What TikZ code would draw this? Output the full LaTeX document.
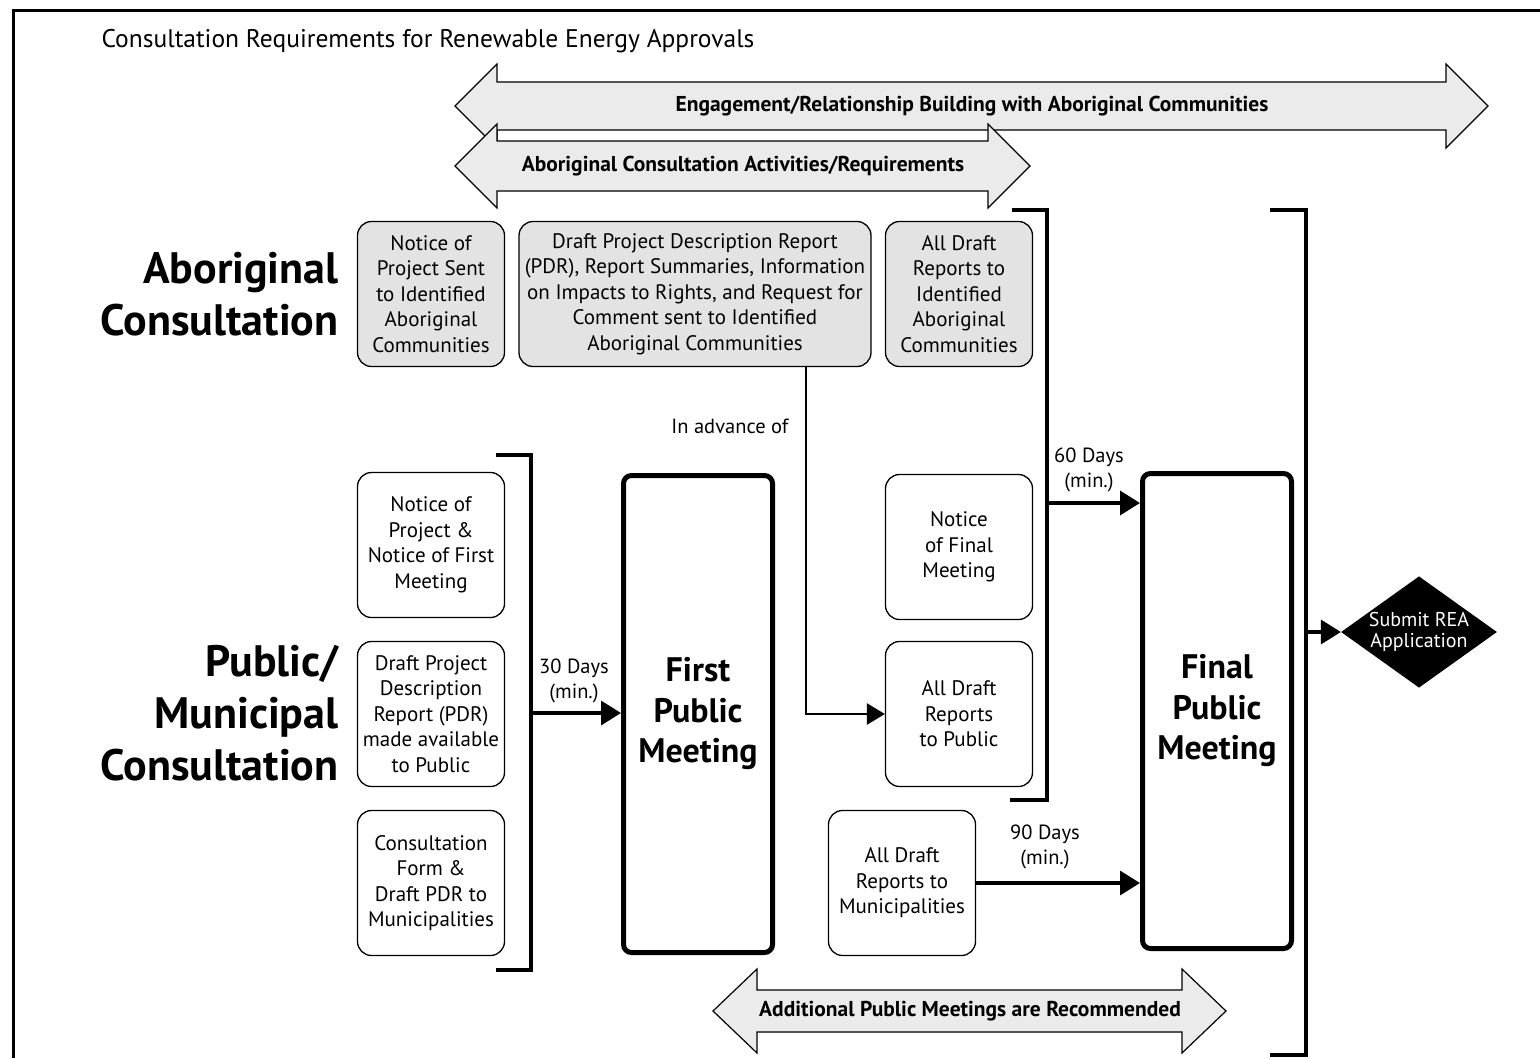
\documentclass[tikz,border=0pt]{standalone}
\usepackage{fontspec}
\setmainfont{PT Sans}
\usetikzlibrary{arrows.meta,shapes.geometric}
\newcommand\dblarr[6]{%
  \draw[bigarrow] (#1,#3) -- ({#1+#6},{#3-#4}) -- ({#1+#6},{#3-#5}) -- ({#2-#6},{#3-#5}) -- ({#2-#6},{#3-#4}) -- (#2,#3) -- ({#2-#6},{#3+#4}) -- ({#2-#6},{#3+#5}) -- ({#1+#6},{#3+#5}) -- ({#1+#6},{#3+#4}) -- cycle;}
\begin{document}
\begin{tikzpicture}[x=1pt,y=-1pt,
  boxtxt/.style={font=\fontsize{21}{25.5}\selectfont, align=center},
  graybox/.style={draw, line width=1.3pt, rounded corners=14pt, fill=black!11, minimum width=147pt, minimum height=145pt, boxtxt, inner sep=0pt},
  whitebox/.style={graybox, fill=white},
  meetbox/.style={draw, line width=5pt, rounded corners=8pt, minimum width=149pt, minimum height=477pt, font=\bfseries\fontsize{34}{40.5}\selectfont, align=center, inner sep=0pt},
  brk/.style={line width=4pt},
  conn/.style={line width=3.5pt, -{Triangle[length=20pt,width=24pt]}},
  bigarrow/.style={draw, line width=1.2pt, fill=black!8},
  arrtxt/.style={font=\bfseries\fontsize{21.5}{24}\selectfont},
  lbl/.style={font=\fontsize{20.5}{25}\selectfont, align=center},
  biglbl/.style={font=\bfseries\fontsize{44}{52}\selectfont, align=right, anchor=east},
]
\useasboundingbox (0,0) rectangle (1540,1058);
\fill[white] (0,0) rectangle (1540,1058);
\draw[line width=3pt] (13,1058) -- (13,10) -- (1540,10);

\node[anchor=west, font=\fontsize{25.5}{28}\selectfont] (title) at (98,41) {Consultation Requirements for Renewable Energy Approvals};

% big double arrows
\dblarr{455}{1488}{106}{42}{24}{42}
\node[arrtxt] (engtxt) at (972,106) {Engagement/Relationship Building with Aboriginal Communities};
\dblarr{455}{1030}{166}{42}{25}{42}
\node[arrtxt] (acttxt) at (743,166) {Aboriginal Consultation Activities/Requirements};
\dblarr{713}{1226}{1011}{42}{21}{44}
\node[arrtxt] (addtxt) at (970,1011) {Additional Public Meetings are Recommended};

% row labels
\node[biglbl] (ablbl) at (342,294) {Aboriginal\\Consultation};
\node[biglbl] (publbl) at (342,713) {Public/\\Municipal\\Consultation};

% aboriginal boxes
\node[graybox] (a1) at (431,294) {Notice of\\Project Sent\\to Identified\\Aboriginal\\Communities};
\node[graybox, minimum width=352pt] (a2) at (695,294) {Draft Project Description Report\\(PDR), Report Summaries, Information\\on Impacts to Rights, and Request for\\Comment sent to Identified\\Aboriginal Communities};
\node[graybox] (a3) at (959,294) {All Draft\\Reports to\\Identified\\Aboriginal\\Communities};

% public boxes
\node[whitebox] (p1) at (431,545) {Notice of\\Project \&\\Notice of First\\Meeting};
\node[whitebox] (p2) at (431,714) {Draft Project\\Description\\Report (PDR)\\made available\\to Public};
\node[whitebox] (p3) at (431,883) {Consultation\\Form \&\\Draft PDR to\\Municipalities};
\node[whitebox] (nf) at (959,547) {Notice\\of Final\\Meeting};
\node[whitebox] (rp) at (959,714) {All Draft\\Reports\\to Public};
\node[whitebox] (rm) at (902,883) {All Draft\\Reports to\\Municipalities};

% meetings
\node[meetbox] (first) at (698,714) {First\\Public\\Meeting};
\node[meetbox, minimum height=475pt] (final) at (1217,711) {Final\\Public\\Meeting};

% diamond
\node[diamond, shape aspect=1.4, fill=black, minimum width=154pt, minimum height=111pt, inner sep=0pt, text=white, font=\fontsize{20}{21.5}\selectfont, align=center] (rea) at (1419,632) {Submit REA\\Application};

% brackets
\draw[brk] (496,455) -- (531,455) -- (531,970) -- (496,970);
\draw[brk] (1012,210) -- (1047,210) -- (1047,800) -- (1010,800);
\draw[brk] (1270,210) -- (1306,210) -- (1306,1055) -- (1270,1055);

% connectors
\coordinate (pb) at (531,713);
\draw[conn] (pb) -- (first.west |- pb);
\coordinate (adv) at (806,367);
\draw[line width=2.8pt, -{Triangle[length=18pt,width=21pt]}] (a2.south -| adv) |- (rp.west);
\coordinate (b1) at (1047,503);
\draw[conn] (b1) -- (final.west |- b1);
\draw[conn] (rm.east) -- (final.west |- rm.east);
\coordinate (b2) at (1306,632);
\draw[conn] (b2) -- (rea.west);

% labels
\node[lbl] (d30) at (574,681) {30 Days\\(min.)};
\node[lbl] (d60) at (1089,470) {60 Days\\(min.)};
\node[lbl] (d90) at (1045,847) {90 Days\\(min.)};
\node[lbl, anchor=east] (inadv) at (792,426) {In advance of};
\end{tikzpicture}
\end{document}
